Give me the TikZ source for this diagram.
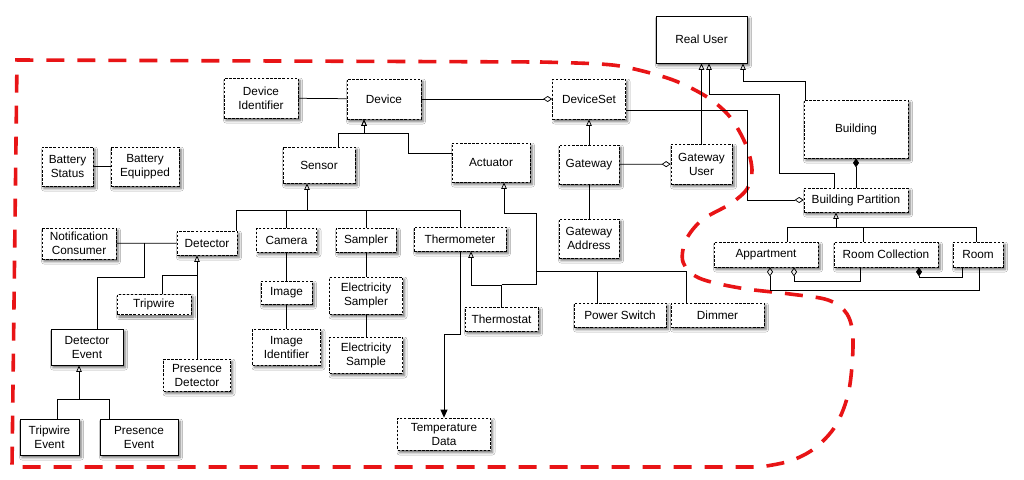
\documentclass[tikz,border=0pt]{standalone}
\usepackage{fontspec}
\setmainfont{Liberation Sans}
\usetikzlibrary{arrows.meta,shadows,shadows.blur}
\definecolor{hullred}{RGB}{232,20,22}
\begin{document}
\begin{tikzpicture}[x=1pt,y=-1pt,line width=0.75pt,
  every node/.style={font=\fontsize{11.8}{14}\selectfont, align=center, inner sep=1pt},
  box/.style={draw, dash pattern=on 2.5pt off 1.6pt, line width=0.75pt, fill=white,
    blur shadow={shadow xshift=2pt, shadow yshift=-2.5pt, shadow blur radius=2.5pt, shadow opacity=60}},
  sbox/.style={box, solid},
  inh/.style={-{Triangle[open,length=6.5pt,width=5.5pt]}},
  agg/.style={-{Diamond[open,length=9pt,width=6pt]}},
  comp/.style={-{Diamond[length=9pt,width=6pt]}},
  fil/.style={-{Triangle[length=8pt,width=7pt]}},
  hull/.style={draw=hullred, line width=3.6pt, dash pattern=on 18pt off 13pt}]
\useasboundingbox (0,0) rectangle (1024,479);
\fill[white] (0,0) rectangle (1024,479);

% hull
\draw[hull] plot[smooth, tension=0.55] coordinates {(540,62) (600,64) (630,68) (673,80) (707,97) (730,117) (746,145) (752,170) (747,189) (730,204) (702,220) (686,240) (683,262) (699,278) (740,288) (790,294) (828,300) (847,314) (853,340) (849,390) (836,425) (815,448) (790,461) (760,467)} -- (12,467) -- (17,60) -- (540,62);

% nodes
\node[box, minimum width=74pt, minimum height=40pt] (devid) at (261,98) {Device\\Identifier};
\node[box, minimum width=74pt, minimum height=40pt] (device) at (384,99) {Device};
\node[box, minimum width=73pt, minimum height=40pt] (devset) at (589,99) {DeviceSet};
\node[box, minimum width=51pt, minimum height=39pt] (batst) at (67.5,166.5) {Battery\\Status};
\node[box, minimum width=68pt, minimum height=39pt] (bateq) at (145,166.5) {Battery\\Equipped};
\node[box, minimum width=72pt, minimum height=36pt] (sensor) at (319,165) {Sensor};
\node[box, minimum width=78pt, minimum height=39pt] (actuator) at (491,162.5) {Actuator};
\node[box, minimum width=60pt, minimum height=39pt] (gateway) at (589,164.5) {Gateway};
\node[box, minimum width=61pt, minimum height=40pt] (gwuser) at (701.5,164) {Gateway\\User};
\node[box, minimum width=60pt, minimum height=39pt] (gwaddr) at (589,238.5) {Gateway\\Address};
\node[sbox, minimum width=91pt, minimum height=47pt] (realuser) at (701.5,39.5) {Real User};
\node[box, minimum width=104pt, minimum height=58pt] (building) at (856,129) {Building};
\node[box, minimum width=104pt, minimum height=24pt] (bpart) at (856,200) {Building Partition};
\node[box, minimum width=104pt, minimum height=25pt] (appart) at (766,254.5) {Appartment};
\node[box, minimum width=104pt, minimum height=25pt] (roomcoll) at (886,254.5) {Room Collection};
\node[box, minimum width=50pt, minimum height=25pt] (room) at (978,254.5) {Room};
\node[box, minimum width=74pt, minimum height=31pt] (notif) at (79,243.5) {Notification\\Consumer};
\node[box, minimum width=60pt, minimum height=24pt] (detector) at (207,243) {Detector};
\node[box, minimum width=60pt, minimum height=24pt] (camera) at (286.5,240) {Camera};
\node[box, minimum width=60pt, minimum height=24pt] (sampler) at (366,240) {Sampler};
\node[box, minimum width=92pt, minimum height=24pt] (thermometer) at (460,239) {Thermometer};
\node[box, minimum width=74pt, minimum height=20pt] (tripwire) at (154,304.5) {Tripwire};
\node[box, minimum width=67pt, minimum height=32pt] (presdet) at (197,375) {Presence\\Detector};
\node[sbox, minimum width=72pt, minimum height=36pt] (detevent) at (87,347) {Detector\\Event};
\node[sbox, minimum width=59pt, minimum height=36pt] (tripevent) at (49.5,437) {Tripwire\\Event};
\node[sbox, minimum width=78pt, minimum height=36pt] (presevent) at (139,437) {Presence\\Event};
\node[box, minimum width=51pt, minimum height=23pt] (image) at (286.5,292.5) {Image};
\node[box, minimum width=68pt, minimum height=36pt] (imgid) at (286.5,347) {Image\\Identifier};
\node[box, minimum width=73pt, minimum height=37pt] (elsampler) at (366,295.5) {Electricity\\Sampler};
\node[box, minimum width=73pt, minimum height=36pt] (elsample) at (366,355) {Electricity\\Sample};
\node[box, minimum width=93pt, minimum height=32pt] (tempdata) at (444,434) {Temperature\\Data};
\node[box, minimum width=73pt, minimum height=24pt] (thermostat) at (501.5,319) {Thermostat};
\node[box, minimum width=92pt, minimum height=24pt] (powersw) at (620,315) {Power Switch};
\node[box, minimum width=93pt, minimum height=24pt] (dimmer) at (717.5,315) {Dimmer};

% connectors
\draw (devid) -- (device);
\draw[agg] (device) -- (devset);
\draw (batst) -- (bateq);
\draw[inh] ([xshift=19pt]sensor.north) |- (364,133) -- ([xshift=-20pt]device.south);
\draw[inh] ([yshift=9.5pt]actuator.west) -| (408,133) -| ([xshift=-20pt]device.south);
\draw[inh] ([xshift=29pt]detector.north) |- (307,210) -- ([xshift=-12pt]sensor.south);
\draw (camera.north) |- (307,210);
\draw (sampler.north) |- (307,210);
\draw (thermometer.north) |- (307,210);
\draw (notif) -- (detector);
\coordinate (j1) at (144,243);
\draw (j1) |- (97,277) -- ([xshift=10pt]detevent.north);
\draw[inh] (presdet.north) -- ([xshift=-10pt]detector.south);
\draw ([xshift=8pt]tripwire.north) |- (197,275);
\draw[inh] ([xshift=7.5pt]tripevent.north) |- (79,399) -- ([xshift=-8pt]detevent.south);
\draw ([xshift=-30pt]presevent.north) |- (79,399);
\draw (camera) -- (image);
\draw (image) -- (imgid);
\draw (sampler) -- (elsampler);
\draw (elsampler) -- (elsample);
\draw[fil] (thermometer.south) |- (444,334) -- (tempdata.north);
\draw[inh] (thermostat.north) |- (471,285) -- ([xshift=11pt]thermometer.south);
\draw[inh] ([yshift=22pt]thermostat.north) -| (536,213) -| ([xshift=13pt]actuator.south);
\draw ([xshift=-23pt]powersw.north) |- (536,271);
\draw ([xshift=-31.5pt]dimmer.north) |- (536,271);
\draw[inh] (gateway) -- (devset);
\draw[agg] (gateway) -- (gwuser);
\draw (gateway) -- (gwaddr);
\draw[inh] (gwuser.north) -- (gwuser.north |- realuser.south);
\draw[inh] ([xshift=-22pt]bpart.north) |- (779,173) |- (709,94) -- ([xshift=7.5pt]realuser.south);
\draw[inh] ([xshift=-51pt]building.north) |- (743,81) -- ([xshift=41.5pt]realuser.south);
\draw[comp] (bpart) -- (building);
\draw[agg] ([yshift=-11pt]devset.east) -| (747,200) -- (bpart.west);
\draw[inh] ([xshift=21pt]appart.north) |- (836,227) -- ([xshift=-20pt]bpart.south);
\draw ([xshift=-23pt]roomcoll.north) |- (836,227);
\draw ([xshift=-2pt]room.north) |- (836,227);
\draw[agg] ([xshift=-26pt]roomcoll.south) |- (794,281) -- ([xshift=28pt]appart.south);
\draw[agg] ([xshift=1pt]room.south) |- (770,290) -- ([xshift=4pt]appart.south);
\draw[comp] ([xshift=-16pt]room.south) |- (919,277) -- ([xshift=33pt]roomcoll.south);
\end{tikzpicture}
\end{document}
